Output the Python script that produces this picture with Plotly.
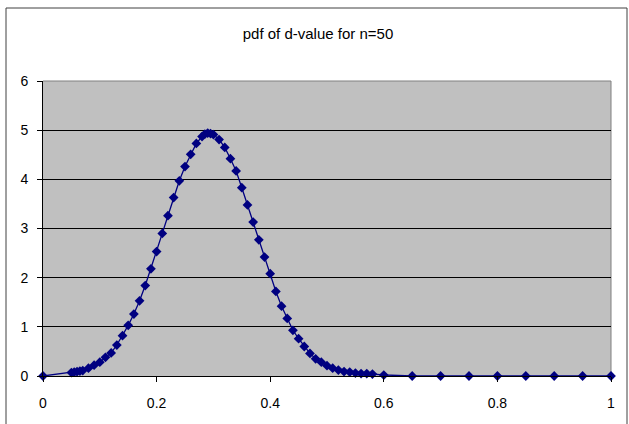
import plotly.graph_objects as go

# d-values and pdf values
d_values = [0, 0.05, 0.055, 0.06, 0.065, 0.07, 0.08, 0.09, 0.10, 0.11, 0.12, 0.13, 0.14,
            0.15, 0.16, 0.17, 0.18, 0.19, 0.20, 0.21, 0.22, 0.23, 0.24, 0.25, 0.26, 0.27,
            0.28, 0.285, 0.29, 0.295, 0.30, 0.31, 0.32, 0.33, 0.34, 0.35, 0.36, 0.37, 0.38,
            0.39, 0.40, 0.41, 0.42, 0.43, 0.44, 0.45, 0.46, 0.47, 0.48, 0.49, 0.50, 0.51,
            0.52, 0.53, 0.54, 0.55, 0.56, 0.57, 0.58, 0.60, 0.65, 0.70, 0.75, 0.80, 0.85,
            0.90, 0.95, 1.00]
pdf_values = [0, 0.07, 0.08, 0.09, 0.10, 0.11, 0.16, 0.22, 0.28, 0.38, 0.47, 0.63, 0.82,
              1.03, 1.26, 1.53, 1.84, 2.18, 2.53, 2.90, 3.26, 3.63, 3.97, 4.26, 4.51, 4.73,
              4.87, 4.92, 4.94, 4.93, 4.91, 4.81, 4.65, 4.42, 4.17, 3.83, 3.48, 3.13, 2.77,
              2.42, 2.08, 1.72, 1.42, 1.17, 0.93, 0.76, 0.60, 0.46, 0.35, 0.28, 0.21, 0.16,
              0.12, 0.09, 0.08, 0.06, 0.05, 0.05, 0.04, 0.02, 0, 0, 0, 0, 0,
              0, 0, 0]

x_ticks = [0, 0.2, 0.4, 0.6, 0.8, 1]
x_tick_labels = ["0", "0.2", "0.4", "0.6", "0.8", "1"]
y_ticks = [0, 1, 2, 3, 4, 5, 6]

title_text = "pdf of d-value for n=50"

font_family = "Arial, Liberation Sans, sans-serif"

fig = go.Figure()
fig.add_trace(go.Scatter(
    x=d_values, y=pdf_values, mode="lines+markers",
    line=dict(color="#000080", width=1.3),
    marker=dict(symbol="diamond", size=7.5, color="#000080"),
    cliponaxis=False, showlegend=False,
))

W, H = 629, 424
L, R, T, B = 43, 18, 81, 48
pw, ph = W - L - R, H - T - B

fig.update_layout(
    width=W, height=H,
    margin=dict(l=L, r=R, t=T, b=B, pad=0),
    paper_bgcolor="white",
    plot_bgcolor="#C0C0C0",
    font=dict(family=font_family, size=14, color="black"),
    title=dict(text=title_text, x=318 / W, xref="container", xanchor="center",
               y=1 - 34 / H, yref="container", yanchor="middle",
               font=dict(family=font_family, size=15, color="black")),
    xaxis=dict(range=[0, 1], tickvals=x_ticks, ticktext=x_tick_labels,
               showgrid=False, zeroline=False, showline=True, linecolor="black",
               linewidth=1, ticks="outside", ticklen=5, tickcolor="black",
               ticklabelstandoff=9),
    yaxis=dict(range=[0, 6], tickvals=y_ticks, showgrid=True, gridcolor="black",
               gridwidth=1, zeroline=False, showline=True, linecolor="black",
               linewidth=1, ticks="outside", ticklen=5, tickcolor="black",
               ticklabelstandoff=6),
    shapes=[
        # plot-area top and right border (grey)
        dict(type="line", xref="paper", yref="paper", x0=0, x1=1, y0=1, y1=1,
             line=dict(color="#808080", width=1), layer="above"),
        dict(type="line", xref="paper", yref="paper", x0=1, x1=1, y0=0, y1=1,
             line=dict(color="#808080", width=1), layer="below"),
        # outer chart border
        dict(type="rect", xref="paper", yref="paper",
             x0=(6 - L) / pw, x1=(627 - L) / pw,
             y0=(H - B - 432) / ph, y1=(H - B - 8) / ph,
             line=dict(color="#404040", width=1), fillcolor="rgba(0,0,0,0)", layer="above"),
    ],
)

fig.write_html("out.html", config={"displayModeBar": False},
               post_script="document.body.style.margin='0px';")
